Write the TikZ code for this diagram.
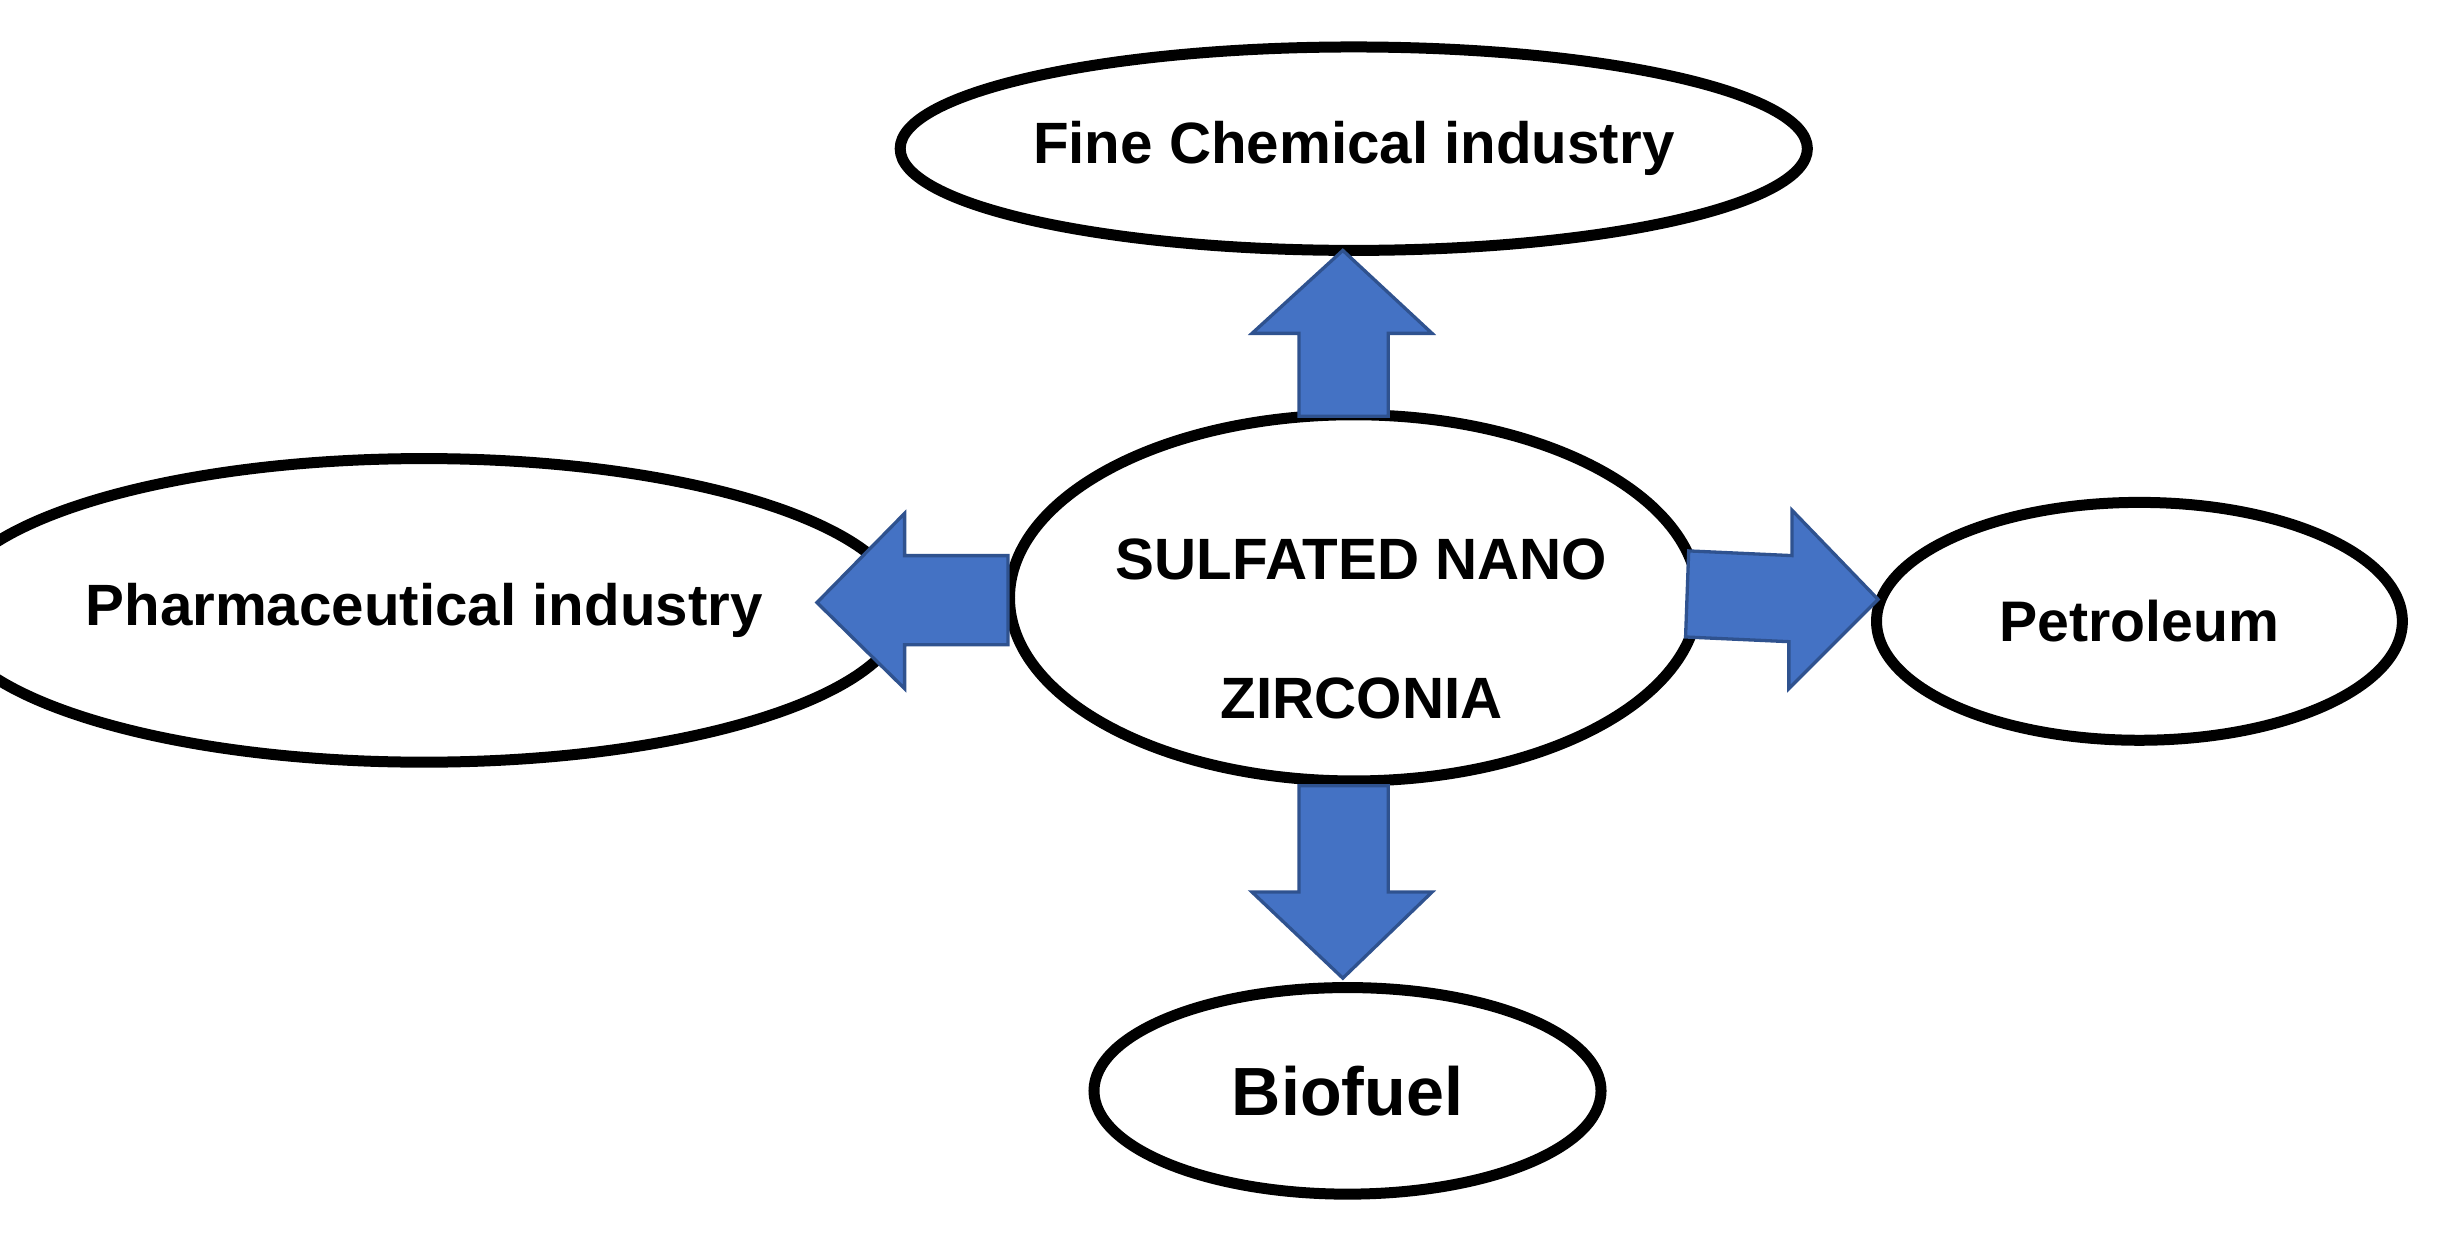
\documentclass[tikz,border=0pt]{standalone}
\usepackage{fontspec}
\setmainfont{Liberation Sans}
\usetikzlibrary{shapes.geometric}
\definecolor{arfill}{HTML}{4472C4}
\definecolor{ardraw}{HTML}{2F528F}
\begin{document}
\begin{tikzpicture}[x=0.05cm,y=-0.05cm,
  ell/.style={ellipse,draw=black,line width=10pt,fill=white,inner sep=0pt,font=\bfseries\fontsize{53}{70}\selectfont,align=center},
  barrow/.style={fill=arfill,draw=ardraw,line width=3pt,line join=miter}]
\useasboundingbox (0,0) rectangle (1568,788);
\node[ell,minimum width=27cm,minimum height=6.5cm] (fine) at (865,95) {Fine Chemical industry};
\node[ell,minimum width=22cm,minimum height=11.7cm,font=\bfseries\fontsize{53}{126}\selectfont] (center) at (865,382) {};
\node[font=\bfseries\fontsize{53}{126}\selectfont,align=center] (centertext) at (870,402) {SULFATED NANO\\ZIRCONIA};
\node[ell,minimum width=23.8cm,minimum height=9.7cm] (pharma) at (271,390) {Pharmaceutical industry};
\node[ell,minimum width=16.8cm,minimum height=7.6cm,font=\bfseries\fontsize{52}{60}\selectfont] (petro) at (1367,397) {Petroleum};
\node[ell,minimum width=16.2cm,minimum height=6.6cm,font=\bfseries\fontsize{62}{70}\selectfont] (bio) at (861,697) {Biofuel};
% up arrow
\draw[barrow] (830,266) -- (830,213) -- (800,213) -- (858,160) -- (915,213) -- (887,213) -- (887,266) -- cycle;
% down arrow
\draw[barrow] (830,502) -- (830,570) -- (800,570) -- (858,625) -- (915,570) -- (887,570) -- (887,502) -- cycle;
% left arrow
\draw[barrow] (644,355) -- (578,355) -- (578,328) -- (522,385) -- (578,440) -- (578,412) -- (644,412) -- cycle;
% right arrow
\draw[barrow] (1079,352) -- (1145,355) -- (1145,326) -- (1200,383) -- (1143,440) -- (1143,410) -- (1077,407) -- cycle;
\end{tikzpicture}
\end{document}
